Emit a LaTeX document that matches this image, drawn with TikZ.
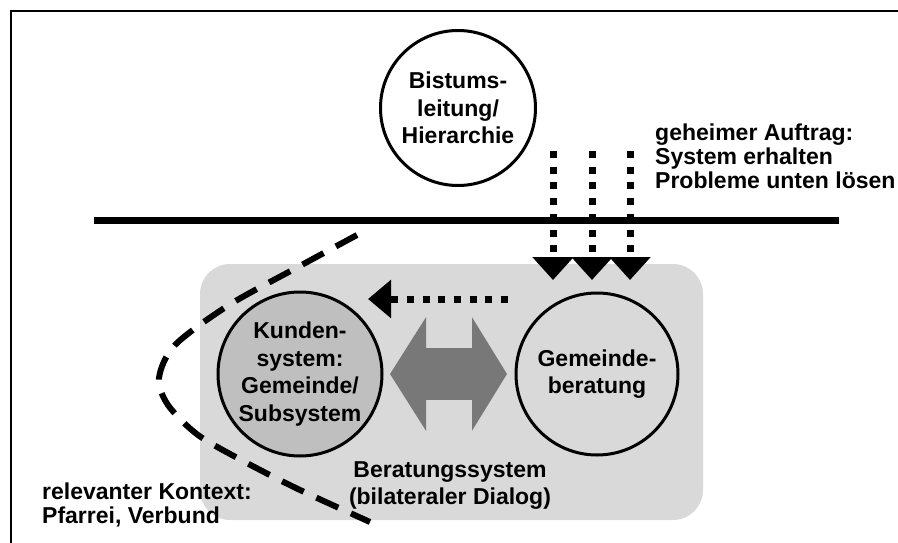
\documentclass[tikz,border=0pt]{standalone}
\usepackage{fontspec}
\setmainfont{Liberation Sans}
\usetikzlibrary{arrows.meta,positioning}

\begin{document}
\begin{tikzpicture}[x=1pt,y=-1pt]
\tikzset{kreis/.style={circle,draw,line width=3pt,inner sep=0pt,
    font=\fontsize{23}{27.5}\selectfont\bfseries,align=center},
  txt/.style={font=\fontsize{23}{24}\selectfont\bfseries,inner sep=0pt},
  punkte/.style={line width=7pt,dash pattern=on 7pt off 8.7pt,
    -{Triangle[length=23pt,width=40pt]}}}
\useasboundingbox (0,0) rectangle (898,543);
\draw[line width=2.5pt] (11,560) -- (11,11) -- (910,11);
% Beratungssystem
\fill[black!15,rounded corners=30pt] (200,264) rectangle (703,520);
\draw[line width=7pt] (94,220) -- (839,220);
    \node[kreis,fill=white,minimum size=155pt] (bistum) at (458,108)
      {Bistums-\\leitung/\\Hierarchie};
    \node[kreis,fill=black!25,minimum size=164pt] (kunden) at (300,374)
      {Kunden-\\system:\\Gemeinde/\\Subsystem};
    \node[kreis,minimum size=162pt] (beratung) at (597,374)
      {Gemeinde-\\beratung};
% Dialog
\draw[black!53,line width=52pt,
  {Triangle[length=36pt,width=112pt]}-{Triangle[length=35pt,width=112pt]},
  shorten <=6.5pt,shorten >=7.5pt] (kunden) -- (beratung);
% geheimer Auftrag
\foreach \x in {553,592,630}{
  \coordinate (a\x) at (\x,151);
  \coordinate (b\x) at (\x,280);
  \draw[punkte] (a\x) -- (b\x);
}
\coordinate (r1) at (508,299);
\coordinate (r2) at (368,299);
\draw[punkte,-{Triangle[length=23pt,width=37pt]}] (r1) -- (r2);
% Kontext
\draw[line width=6pt,dash pattern=on 24pt off 14pt] plot[smooth]
  coordinates {(357,235) (298,267) (229,305) (175,345) (159,378)
  (168,405) (198,435) (245,462) (300,490) (370,522)};
    \node[txt,anchor=west,align=left] (auftrag) at (655,156)
      {geheimer Auftrag:\\System erhalten\\Probleme unten lösen};
    \node[txt,anchor=west,align=left] (kontext) at (42,505)
      {relevanter Kontext:\\Pfarrei, Verbund};
    \node[txt,align=center,font=\fontsize{23}{27}\selectfont\bfseries]
      (system) at (450,486) {Beratungssystem\\(bilateraler Dialog)};
\end{tikzpicture}
\end{document}
